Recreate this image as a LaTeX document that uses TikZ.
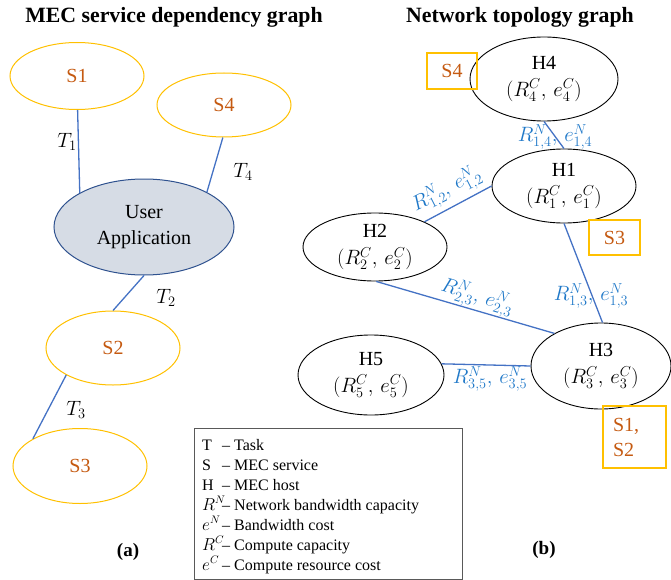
\documentclass[tikz,border=0pt]{standalone}
\usepackage{fontspec}
\setmainfont{Liberation Serif}
\usetikzlibrary{shapes.geometric}

\definecolor{svcline}{HTML}{FFC000}
\definecolor{svctext}{HTML}{C55A11}
\definecolor{linkblue}{HTML}{4472C4}
\definecolor{labelblue}{HTML}{1F78C8}
\definecolor{appfill}{HTML}{D6DCE5}
\definecolor{appline}{HTML}{2F528F}
\definecolor{legendline}{HTML}{595959}

\begin{document}
\begin{tikzpicture}[x=1pt,y=-1pt,
  svc/.style={ellipse, draw=svcline, line width=1pt, inner sep=0pt,
    minimum width=134pt, minimum height=70pt, text=svctext,
    font=\fontsize{20}{24}\selectfont},
  app/.style={ellipse, draw=appline, fill=appfill, line width=1pt, inner sep=0pt,
    minimum width=180pt, minimum height=96pt, align=center,
    font=\fontsize{20}{26}\selectfont},
  host/.style={ellipse, draw=black, line width=0.9pt, inner sep=0pt, align=center,
    font=\fontsize{20}{27}\selectfont},
  place/.style={draw=svcline, line width=1.2pt, text=svctext, inner sep=0pt,
    font=\fontsize{20}{25}\selectfont},
  link/.style={draw=linkblue, line width=1.3pt},
  task/.style={inner sep=0pt, font=\fontsize{22}{22}\selectfont},
  cost/.style={inner sep=0pt, text=labelblue, font=\fontsize{22}{22}\selectfont},
  heading/.style={inner sep=0pt, font=\fontsize{21.8}{22}\selectfont\bfseries},
  legendrow/.style={anchor=base west, inner sep=0pt, font=\fontsize{16}{16}\selectfont}
]
\useasboundingbox (0,0) rectangle (671,580);

% ---------- (a) service dependency graph ----------
\node[heading] (ta) at (174,17) {MEC service dependency graph};

\node[svc, minimum height=67pt] (s1) at (77,76) {S1};
\node[svc, minimum height=64pt] (s4) at (224,105) {S4};
\node[app] (ua) at (144,227) {User\\Application};
\node[svc, minimum height=74pt] (s2) at (113,348) {S2};
\node[svc, minimum height=75pt] (s3) at (80,466) {S3};

\draw[link] (s1.271) -- (ua.152);
\draw[link] (s4.268) -- (ua.29);
\draw[link] (ua.270) -- (s2.90);
\draw[link] (s2.210) -- (s3.150);

\node[task] (t1) at (67,142) {$T_1$};
\node[task] (t4) at (243,172) {$T_4$};
\node[task] (t2) at (166,298) {$T_2$};
\node[task] (t3) at (76,410) {$T_3$};

\node[heading, font=\fontsize{19}{19}\selectfont\bfseries] (la) at (128,552) {(a)};

% ---------- (b) network topology graph ----------
\node[heading] (tb) at (520,17) {Network topology graph};

\node[host, minimum width=148pt, minimum height=84pt] (h4) at (544,79) {H4\\$(R_4^C,\,e_4^C)$};
\node[host, minimum width=144pt, minimum height=74pt] (h1) at (564,186) {H1\\$(R_1^C,\,e_1^C)$};
\node[host, minimum width=144pt, minimum height=68pt] (h2) at (375,247) {H2\\$(R_2^C,\,e_2^C)$};
\node[host, minimum width=146pt, minimum height=80pt] (h5) at (371,375) {H5\\$(R_5^C,\,e_5^C)$};
\node[host, minimum width=140pt, minimum height=86pt] (h3) at (601,366) {H3\\$(R_3^C,\,e_3^C)$};

\draw[link] (h4.270) -- (h1.90);
\draw[link] (h2.27) -- (h1.180);
\draw[link] (h1.270) -- (h3.88);
\draw[link] (h2.272) -- (h3.145);
\draw[link] (h5.9) -- (h3.180);

\node[cost] (c14) at (555,137) {$R^N_{1,4},\,e^N_{1,4}$};
\node[cost, rotate=27] (c12) at (447,190) {$R^N_{1,2},\,e^N_{1,2}$};
\node[cost] (c13) at (591,296) {$R^N_{1,3},\,e^N_{1,3}$};
\node[cost, rotate=-17] (c23) at (477,297) {$R^N_{2,3},\,e^N_{2,3}$};
\node[cost] (c35) at (490,379) {$R^N_{3,5},\,e^N_{3,5}$};

% services placed on hosts
\node[place, minimum width=50pt, minimum height=36pt] (p4) at (452,71) {S4};
\node[place, minimum width=51pt, minimum height=35pt] (p3) at (614.5,237.5) {S3};
\node[place, text width=43pt, inner xsep=10pt, minimum height=62pt, align=left] (p12) at (634.5,437) {S1,\\S2};

\node[heading, font=\fontsize{19}{19}\selectfont\bfseries] (lb) at (544,550) {(b)};

% ---------- legend ----------
\draw[legendline, line width=0.9pt] (194,428) rectangle (462,579);
\node[legendrow] (g1) at (202,450) {\makebox[20pt][l]{T}– Task};
\node[legendrow] (g2) at (202,470) {\makebox[20pt][l]{S}– MEC service};
\node[legendrow] (g3) at (202,490) {\makebox[20pt][l]{H}– MEC host};
\node[legendrow] (g4) at (202,510) {\makebox[20pt][l]{$R^N$}– Network bandwidth capacity};
\node[legendrow] (g5) at (202,530) {\makebox[20pt][l]{$e^N$}– Bandwidth cost};
\node[legendrow] (g6) at (202,550) {\makebox[20pt][l]{$R^C$}– Compute capacity};
\node[legendrow] (g7) at (202,570) {\makebox[20pt][l]{$e^C$}– Compute resource cost};
\end{tikzpicture}
\end{document}
